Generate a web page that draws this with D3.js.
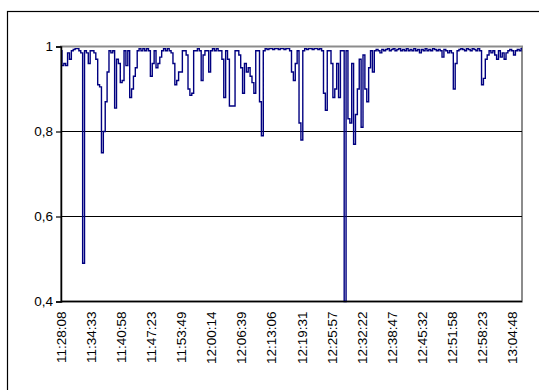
<!DOCTYPE html>
<html>
<head>
<meta charset="utf-8">
<script src="https://cdn.jsdelivr.net/npm/d3@7"></script>
<style>
  html, body { margin: 0; padding: 0; background: #fff; }
  svg { display: block; }
  text { font-family: "Liberation Sans", Arial, sans-serif; }
</style>
</head>
<body>
<svg id="chart" width="539" height="390"></svg>
<script>
// ---- data ----
const values = [
  0.99,0.955,0.96,0.955,0.985,0.97,0.99,0.993,0.995,0.995,
  0.99,0.985,0.49,0.99,0.985,0.96,0.99,0.99,0.985,0.97,
  0.91,0.905,0.75,0.80,0.87,0.94,0.99,0.985,0.99,0.855,
  0.97,0.96,0.915,0.92,0.99,0.955,0.99,0.88,0.90,0.93,
  0.95,0.99,0.995,0.99,0.995,0.99,0.995,0.99,0.93,0.96,
  0.99,0.95,0.96,0.975,0.99,0.995,0.99,0.995,0.99,0.985,
  0.96,0.91,0.92,0.94,0.94,0.99,0.99,0.98,0.90,0.885,
  0.89,0.99,0.99,0.995,0.99,0.92,0.98,0.99,0.99,0.94,
  0.99,0.995,0.99,0.995,0.99,0.99,0.97,0.88,0.99,0.97,
  0.86,0.86,0.86,0.99,0.99,0.98,0.95,0.89,0.96,0.94,
  0.95,0.93,0.915,0.89,0.99,0.99,0.87,0.79,0.99,0.995,
  0.993,0.995,0.995,0.993,0.995,0.995,0.993,0.995,0.995,0.993,
  0.995,0.995,0.99,0.94,0.92,0.96,0.99,0.82,0.78,0.99,
  0.995,0.993,0.995,0.995,0.993,0.995,0.995,0.993,0.995,0.99,
  0.89,0.85,0.99,0.99,0.96,0.88,0.90,0.96,0.88,0.99,
  0.99,0.40,0.99,0.83,0.82,0.96,0.77,0.84,0.90,0.97,
  0.81,0.98,0.90,0.87,0.95,0.99,0.94,0.99,0.993,0.99,
  0.985,0.993,0.99,0.993,0.995,0.99,0.993,0.995,0.99,0.993,
  0.995,0.99,0.993,0.99,0.995,0.99,0.993,0.99,0.995,0.99,
  0.993,0.985,0.993,0.99,0.995,0.99,0.993,0.99,0.995,0.993,
  0.99,0.993,0.99,0.975,0.993,0.99,0.985,0.99,0.985,0.90,
  0.96,0.99,0.993,0.995,0.993,0.99,0.995,0.993,0.99,0.995,
  0.993,0.99,0.995,0.99,0.91,0.925,0.97,0.98,0.99,0.985,
  0.99,0.98,0.97,0.99,0.975,0.985,0.97,0.985,0.99,0.993,
  0.99,0.98,0.99,0.993,0.99,0.995
];
const timeLabels = [
  "11:28:08","11:34:33","11:40:58","11:47:23","11:53:49","12:00:14",
  "12:06:39","12:13:06","12:19:31","12:25:57","12:32:22","12:38:47",
  "12:45:32","12:51:58","12:58:23","13:04:48"
];
const labelEvery = 16;
const yTickValues = [0.4, 0.6, 0.8, 1];
const yTickLabels = ["0,4", "0,6", "0,8", "1"];
const gridValues = [0.6, 0.8];

// ---- layout ----
const plot = { left: 61, right: 522, top: 46.5, bottom: 301.5 };
const svg = d3.select("#chart");

// outer chart border
svg.append("rect")
  .attr("x", 7.5).attr("y", 11.5)
  .attr("width", 700).attr("height", 600)
  .attr("fill", "#fff").attr("stroke", "#000").attr("stroke-width", 1.2);

const x = d3.scaleLinear().domain([0, values.length - 1]).range([plot.left, plot.right]);
const y = d3.scaleLinear().domain([0.4, 1]).range([plot.bottom, plot.top]);

// plot area border (grey)
svg.append("rect")
  .attr("x", plot.left).attr("y", plot.top)
  .attr("width", plot.right - plot.left).attr("height", plot.bottom - plot.top)
  .attr("fill", "#fff").attr("stroke", "#8c8c8c").attr("stroke-width", 2);

// gridlines
svg.append("g").selectAll("line").data(gridValues).join("line")
  .attr("x1", plot.left).attr("x2", plot.right)
  .attr("y1", d => y(d)).attr("y2", d => y(d))
  .attr("stroke", "#000").attr("stroke-width", 1);

// data line
const line = d3.line().x((d, i) => x(i)).y(d => y(d)).curve(d3.curveStep);
svg.append("path")
  .datum(values)
  .attr("d", line)
  .attr("fill", "none")
  .attr("stroke", "#000080")
  .attr("stroke-width", 1.4);

// y axis
const yAxis = d3.axisLeft(y)
  .tickValues(yTickValues)
  .tickFormat((d, i) => yTickLabels[i])
  .tickSize(5).tickPadding(3);
const gy = svg.append("g").attr("transform", `translate(${plot.left},0)`).call(yAxis);
gy.select(".domain").attr("stroke", "#000").attr("stroke-width", 1.5);
gy.selectAll(".tick line").attr("stroke", "#000").attr("stroke-width", 1.2);
gy.selectAll(".tick text").attr("font-size", "13.5px").attr("fill", "#000")
  .attr("font-family", "'Liberation Sans', Arial, sans-serif");

// x axis line
svg.append("line")
  .attr("x1", plot.left).attr("x2", plot.right)
  .attr("y1", plot.bottom).attr("y2", plot.bottom)
  .attr("stroke", "#000").attr("stroke-width", 1.5);

// x labels
svg.append("g").selectAll("text").data(timeLabels).join("text")
  .attr("transform", (d, j) => `translate(${x(j * labelEvery)},${plot.bottom + 10}) rotate(-90)`)
  .attr("text-anchor", "end")
  .attr("dy", "0.35em")
  .attr("font-size", "13.5px")
  .attr("fill", "#000")
  .text(d => d);
</script>
</body>
</html>
